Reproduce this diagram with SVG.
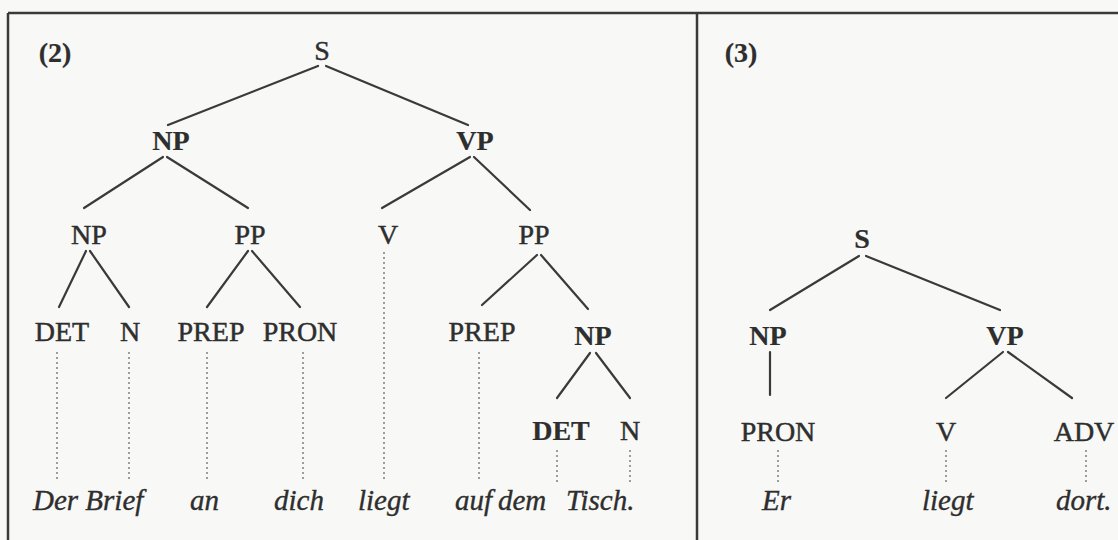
<svg xmlns="http://www.w3.org/2000/svg" width="1118" height="540" viewBox="0 0 1118 540">
<style>
.lbl{font-family:"Liberation Serif","Times New Roman",serif;font-size:28px;fill:#2e2e2e;stroke:#2e2e2e;stroke-width:0.45;text-anchor:middle}
.b{font-weight:bold;stroke-width:0.2}
.w{font-family:"Liberation Serif","Times New Roman",serif;font-size:29px;font-style:italic;fill:#2e2e2e;stroke:#2e2e2e;stroke-width:0.35}
.e{stroke:#3a3a3a;stroke-width:2.2;fill:none;stroke-linecap:round}
.d{stroke:#777;stroke-width:1.4;fill:none;stroke-dasharray:2 3}
.frame{stroke:#3a3a3a;stroke-width:2.5;fill:none}
</style>
<rect width="1118" height="540" fill="#f8f8f6"/>
<g id="frame">
<line class="frame" x1="8" y1="13" x2="1118" y2="13"/>
<line class="frame" x1="8" y1="13" x2="8" y2="540"/>
<line class="frame" x1="697" y1="13" x2="697" y2="540"/>
</g>
<g id="captions">
<text class="lbl b" x="55" y="62">(2)</text>
<text class="lbl b" x="741" y="62">(3)</text>
</g>
<g id="connectors">
<line class="e" x1="318" y1="66" x2="168" y2="125"/>
<line class="e" x1="326" y1="66" x2="468" y2="125"/>
<line class="e" x1="163" y1="157" x2="84" y2="208"/>
<line class="e" x1="167" y1="157" x2="248" y2="208"/>
<line class="e" x1="470" y1="157" x2="382" y2="208"/>
<line class="e" x1="474" y1="157" x2="530" y2="210"/>
<line class="e" x1="86" y1="251" x2="59" y2="307"/>
<line class="e" x1="90" y1="251" x2="129" y2="307"/>
<line class="e" x1="248" y1="251" x2="207" y2="307"/>
<line class="e" x1="252" y1="251" x2="300" y2="307"/>
<line class="e" x1="537" y1="255" x2="482" y2="305"/>
<line class="e" x1="541" y1="255" x2="588" y2="309"/>
<line class="e" x1="590" y1="353" x2="557" y2="398"/>
<line class="e" x1="596" y1="353" x2="630" y2="398"/>
<line class="d" x1="57" y1="352" x2="57" y2="482"/>
<line class="d" x1="129" y1="352" x2="129" y2="482"/>
<line class="d" x1="207" y1="352" x2="207" y2="482"/>
<line class="d" x1="303" y1="352" x2="303" y2="482"/>
<line class="d" x1="384" y1="252" x2="384" y2="482"/>
<line class="d" x1="479" y1="352" x2="479" y2="482"/>
<line class="d" x1="557" y1="450" x2="557" y2="485"/>
<line class="d" x1="630" y1="450" x2="630" y2="485"/>
<line class="e" x1="859" y1="256" x2="770" y2="310"/>
<line class="e" x1="866" y1="256" x2="1000" y2="310"/>
<line class="e" x1="770" y1="352" x2="770" y2="395"/>
<line class="e" x1="1003" y1="352" x2="946" y2="398"/>
<line class="e" x1="1008" y1="352" x2="1072" y2="398"/>
<line class="d" x1="778" y1="450" x2="778" y2="485"/>
<line class="d" x1="946" y1="450" x2="946" y2="485"/>
<line class="d" x1="1086" y1="450" x2="1086" y2="485"/>
</g>
<g id="n-S"><text class="lbl" x="322" y="60">S</text></g>
<g id="n-NP1"><text class="lbl b" x="171" y="150">NP</text></g>
<g id="n-VP1"><text class="lbl b" x="475" y="150">VP</text></g>
<g id="n-NP2"><text class="lbl" x="89" y="244">NP</text></g>
<g id="n-PP1"><text class="lbl" x="250" y="244">PP</text></g>
<g id="n-V1"><text class="lbl" x="388" y="244">V</text></g>
<g id="n-PP2"><text class="lbl" x="534" y="244">PP</text></g>
<g id="n-DET1"><text class="lbl" x="62" y="341">DET</text></g>
<g id="n-N1"><text class="lbl" x="130" y="341">N</text></g>
<g id="n-PREP1"><text class="lbl" x="211" y="341">PREP</text></g>
<g id="n-PRON1"><text class="lbl" x="300" y="341">PRON</text></g>
<g id="n-PREP2"><text class="lbl" x="482" y="341">PREP</text></g>
<g id="n-NP3"><text class="lbl b" x="593" y="345">NP</text></g>
<g id="n-DET2"><text class="lbl b" x="561" y="440">DET</text></g>
<g id="n-N2"><text class="lbl" x="630" y="440">N</text></g>
<g id="words-left">
<text class="w" x="33" y="510">Der Brief</text>
<text class="w" x="190" y="510">an</text>
<text class="w" x="274" y="510">dich</text>
<text class="w" x="358" y="510">liegt</text>
<text class="w" x="455" y="510">auf</text>
<text class="w" x="498" y="510">dem</text>
<text class="w" x="566" y="510">Tisch.</text>
</g>
<g id="n-S3"><text class="lbl b" x="862" y="248">S</text></g>
<g id="n-NP4"><text class="lbl b" x="768" y="345">NP</text></g>
<g id="n-VP4"><text class="lbl b" x="1005" y="345">VP</text></g>
<g id="n-PRON2"><text class="lbl" x="778" y="441">PRON</text></g>
<g id="n-V2"><text class="lbl" x="946" y="441">V</text></g>
<g id="n-ADV"><text class="lbl" x="1084" y="441">ADV</text></g>
<g id="words-right">
<text class="w" x="762" y="510">Er</text>
<text class="w" x="922" y="510">liegt</text>
<text class="w" x="1056" y="510">dort.</text>
</g>
</svg>
